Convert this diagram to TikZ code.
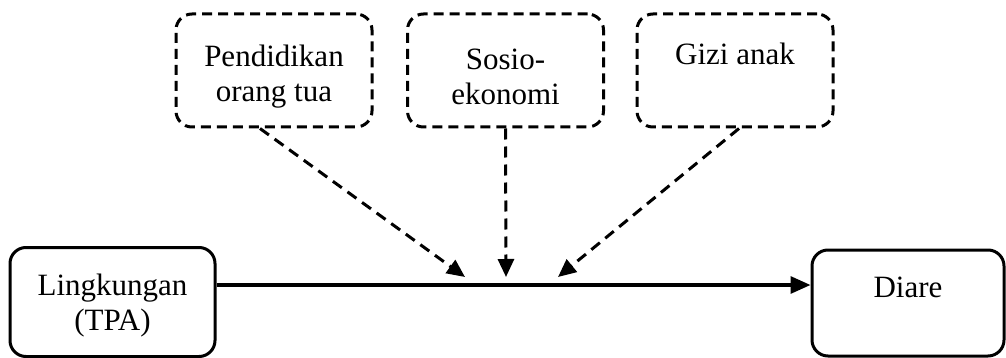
\documentclass[tikz,border=0pt]{standalone}
\usepackage{fontspec}
\setmainfont{Liberation Serif}
\usetikzlibrary{arrows.meta}
\newcommand{\topgap}[1]{\rule{0pt}{#1}}
\begin{document}
\begin{tikzpicture}[x=0.5pt,y=-0.5pt,
  box/.style={draw=black,line width=1.5pt,rounded corners=8pt,align=center,
    inner sep=0pt,font=\fontsize{15.5}{17.5}\selectfont},
  dbox/.style={box,dash pattern=on 5pt off 3pt},
  tbox/.style={minimum width=98pt,minimum height=56.5pt},
  mainarrow/.style={line width=1.6pt,-{Triangle[length=10pt,width=8.5pt]}},
  darrow/.style={line width=1.5pt,dash pattern=on 5.5pt off 3.5pt,-{Triangle[length=9pt,width=8pt]}}]
\useasboundingbox (0,0) rectangle (1006,358);
\node[dbox,tbox] (pend) at (274,70.5) {\topgap{17pt}Pendidikan\\orang tua};
\node[dbox,tbox] (sosio) at (505.5,70.5) {\topgap{17pt}Sosio-\\ekonomi};
\node[dbox,tbox] (gizi) at (735,70.5) {\topgap{17pt}Gizi anak\\\strut};
\node[box,minimum width=102.5pt,minimum height=54.5pt] (ling) at (112.5,302) {\topgap{14pt}Lingkungan\\(TPA)};
\node[box,minimum width=96pt,minimum height=53pt] (diare) at (908,303) {\topgap{17.5pt}Diare\\\strut};
\coordinate (m) at (0,285);
\coordinate (t1) at (465,277);
\coordinate (t2) at (506,277);
\coordinate (t3) at (558,277);
\draw[mainarrow] (ling.east |- m) -- (diare.west |- m);
\draw[darrow] ([xshift=-7pt]pend.south) -- (t1);
\draw[darrow] (sosio.south) -- (t2);
\draw[darrow] ([xshift=2pt]gizi.south) -- (t3);
\end{tikzpicture}
\end{document}
